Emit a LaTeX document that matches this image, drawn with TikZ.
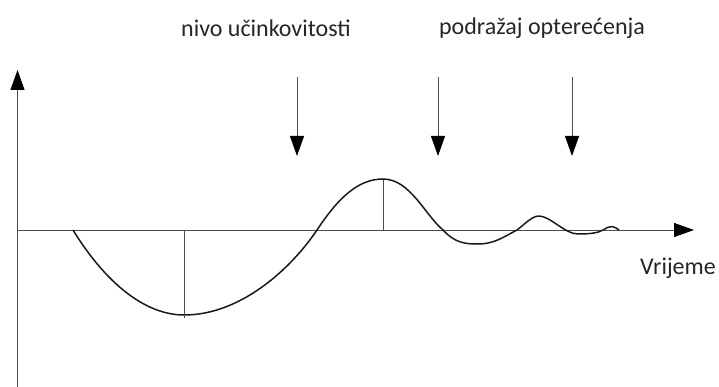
\documentclass[tikz,border=0pt]{standalone}
\usepackage{fontspec}
\setmainfont{Carlito}
\usetikzlibrary{arrows.meta}
\begin{document}
\begin{tikzpicture}[x=1pt,y=-1pt,
  axisline/.style={draw=black!70,line width=1pt},
  tip/.style={-{Triangle[length=20pt,width=14pt,color=black]}},
  curveline/.style={draw=black!90,line width=1.5pt,line join=round},
  guide/.style={draw=black!70,line width=0.8pt},
  lbl/.style={font=\fontsize{24}{28}\selectfont,text=black!85,inner sep=0pt}]
\useasboundingbox (0,0) rectangle (719,387);
% axes
\coordinate (ybot) at (17.5,387);
\coordinate (ytop) at (17.5,70);
\coordinate (xl) at (17.5,230);
\coordinate (xr) at (694,230);
\draw[axisline,tip] (ybot) -- (ytop);
\draw[axisline,tip] (xl) -- (xr);
% load arrows
\foreach \n/\x in {a/297,b/438,c/572}{
  \coordinate (\n s) at (\x,77);
  \coordinate (\n e) at (\x,156);
  \draw[axisline,tip] (\n s) -- (\n e);
}
% curve
\coordinate (c0) at (73,230);
\coordinate (c1) at (184,315);
\coordinate (c2) at (317,230);
\coordinate (c3) at (383,179);
\coordinate (c4) at (443,230);
\coordinate (c5) at (478,244);
\coordinate (c6) at (517,230);
\coordinate (c7) at (539,216);
\coordinate (c8) at (578,234);
\coordinate (c9) at (603,230);
\coordinate (c10) at (612,226.5);
\coordinate (c11) at (619,230);
\draw[curveline] (c0) .. controls (110,290) and (150,315) .. (c1)
  .. controls (240,315) and (290,270) .. (c2)
  .. controls (340,195) and (360,179) .. (c3)
  .. controls (410,179) and (425,215) .. (c4)
  .. controls (455,243) and (465,244) .. (c5)
  .. controls (495,244) and (505,236) .. (c6)
  .. controls (525,224) and (532,216) .. (c7)
  .. controls (550,216) and (565,234) .. (c8)
  .. controls (590,234) and (598,233) .. (c9)
  .. controls (606,228) and (609,226.5) .. (c10)
  .. controls (615,226.5) and (617,229) .. (c11);
% guides at extrema
\coordinate (m1a) at (184,231);
\coordinate (m1b) at (184,318);
\coordinate (m2a) at (383,180);
\coordinate (m2b) at (383,231);
\draw[guide] (m1a) -- (m1b);
\draw[guide] (m2a) -- (m2b);
% labels
\node[lbl] (t1) at (266,28) {nivo učinkovitosti};
\node[lbl] (t2) at (542,28) {podražaj opterećenja};
\node[lbl,anchor=east] (t3) at (716,268) {Vrijeme};
\end{tikzpicture}
\end{document}
